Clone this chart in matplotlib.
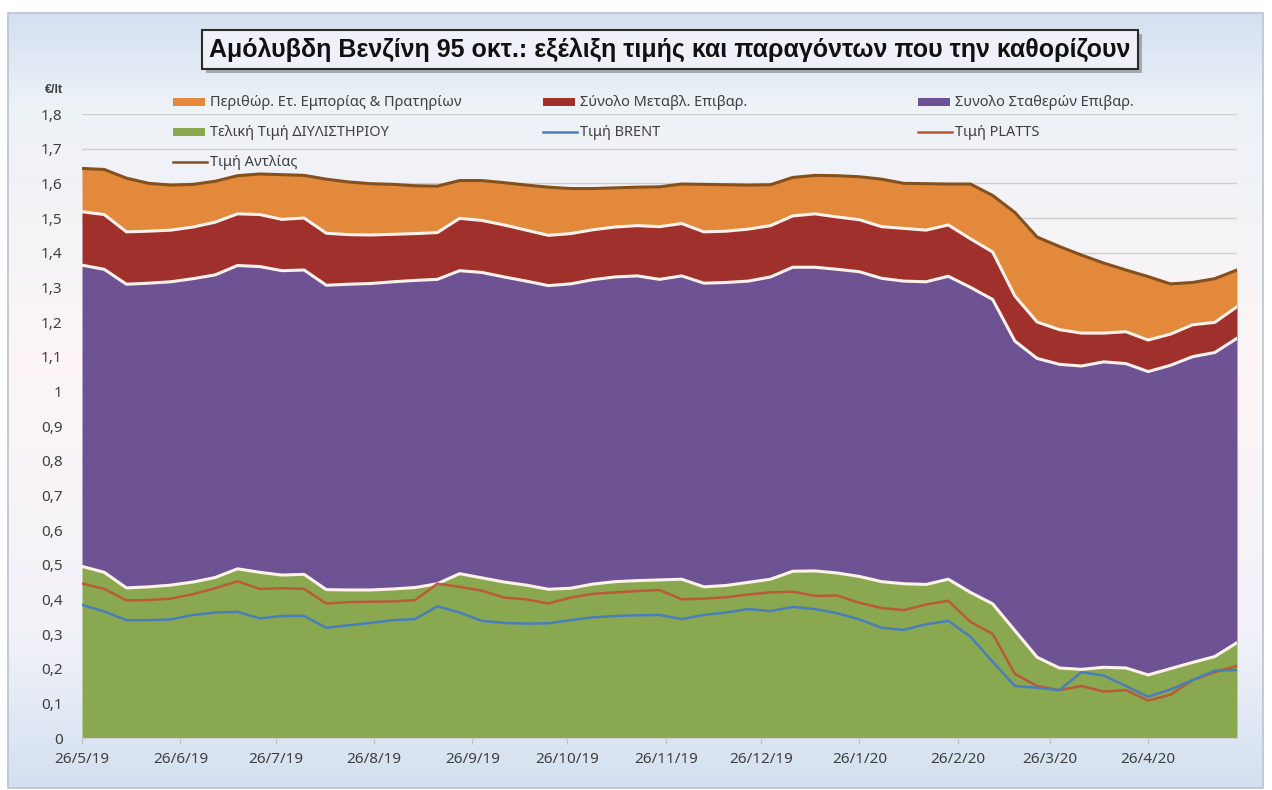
import matplotlib.pyplot as plt
import matplotlib.patheffects as pe
from matplotlib.lines import Line2D
from matplotlib.patches import Rectangle
from matplotlib.ticker import FuncFormatter, MultipleLocator
import numpy as np
import pandas as pd

# Excel-like palette
colors = {
    'green': '#8aa84f',
    'purple': '#6d5393',
    'red': '#9f302c',
    'orange': '#e2893c',
    'edge': '#fdf1ec',
    'pump': '#85501e',
    'brent': '#4a7ebb',
    'platts': '#b95a38',
    'ink': '#404040',
    'grid': '#cfcfcf',
}

plt.rcParams['font.family'] = ['Noto Sans', 'DejaVu Sans']
bold_family = ['Liberation Sans', 'DejaVu Sans']

# weekly samples, 26/5/19 .. 24/5/20 (€/lt)
dates = pd.date_range('2019-05-26', periods=53, freq='7D')

# top of the green area = final refinery price
refinery_price = [0.495, 0.478, 0.433, 0.436, 0.441, 0.450, 0.463, 0.488, 0.478, 0.470,
                  0.472, 0.428, 0.427, 0.427, 0.430, 0.434, 0.445, 0.474, 0.462, 0.450,
                  0.441, 0.429, 0.432, 0.444, 0.451, 0.454, 0.456, 0.458, 0.436, 0.440,
                  0.449, 0.458, 0.481, 0.482, 0.476, 0.466, 0.451, 0.445, 0.443, 0.458,
                  0.420, 0.387, 0.310, 0.233, 0.202, 0.198, 0.204, 0.202, 0.182, 0.200,
                  0.218, 0.235, 0.275]
# top of the purple area = refinery price + fixed taxes
fixed_taxes_level = [1.364, 1.352, 1.309, 1.312, 1.316, 1.325, 1.336, 1.363, 1.360, 1.348,
                     1.350, 1.306, 1.309, 1.311, 1.316, 1.320, 1.323, 1.348, 1.343, 1.330,
                     1.318, 1.305, 1.310, 1.322, 1.330, 1.333, 1.323, 1.333, 1.312, 1.314,
                     1.318, 1.330, 1.358, 1.358, 1.352, 1.345, 1.326, 1.318, 1.316, 1.332,
                     1.300, 1.265, 1.145, 1.095, 1.078, 1.073, 1.085, 1.080, 1.057, 1.075,
                     1.100, 1.112, 1.153]
# top of the red area = + variable taxes
var_taxes_level = [1.518, 1.510, 1.460, 1.462, 1.465, 1.474, 1.488, 1.512, 1.510, 1.496,
                   1.500, 1.456, 1.452, 1.451, 1.453, 1.455, 1.458, 1.499, 1.493, 1.480,
                   1.465, 1.450, 1.455, 1.466, 1.474, 1.478, 1.475, 1.484, 1.460, 1.462,
                   1.468, 1.478, 1.506, 1.512, 1.503, 1.495, 1.475, 1.470, 1.465, 1.480,
                   1.440, 1.402, 1.275, 1.200, 1.178, 1.168, 1.168, 1.172, 1.148, 1.165,
                   1.192, 1.199, 1.244]
# top of the orange area = pump price
pump_price = [1.643, 1.640, 1.615, 1.600, 1.595, 1.597, 1.606, 1.622, 1.627, 1.625,
              1.623, 1.612, 1.604, 1.599, 1.597, 1.593, 1.592, 1.608, 1.608, 1.602,
              1.595, 1.589, 1.585, 1.585, 1.587, 1.589, 1.590, 1.598, 1.597, 1.596,
              1.595, 1.596, 1.617, 1.623, 1.622, 1.619, 1.612, 1.600, 1.599, 1.598,
              1.598, 1.565, 1.516, 1.445, 1.418, 1.393, 1.370, 1.350, 1.331, 1.310,
              1.314, 1.325, 1.350]
platts = [0.446, 0.430, 0.397, 0.398, 0.402, 0.415, 0.432, 0.452, 0.430, 0.432,
          0.430, 0.388, 0.392, 0.393, 0.394, 0.398, 0.445, 0.436, 0.425, 0.405,
          0.400, 0.388, 0.405, 0.416, 0.420, 0.424, 0.427, 0.400, 0.402, 0.406,
          0.414, 0.420, 0.422, 0.410, 0.411, 0.390, 0.375, 0.369, 0.385, 0.396,
          0.335, 0.300, 0.185, 0.150, 0.138, 0.150, 0.134, 0.138, 0.108, 0.125,
          0.167, 0.190, 0.208]
brent = [0.384, 0.365, 0.340, 0.340, 0.342, 0.355, 0.362, 0.364, 0.345, 0.352,
         0.352, 0.318, 0.325, 0.332, 0.340, 0.343, 0.380, 0.362, 0.338, 0.332,
         0.330, 0.331, 0.340, 0.348, 0.352, 0.354, 0.355, 0.343, 0.355, 0.362,
         0.372, 0.366, 0.378, 0.372, 0.360, 0.342, 0.318, 0.312, 0.328, 0.338,
         0.292, 0.220, 0.150, 0.145, 0.138, 0.190, 0.180, 0.150, 0.119, 0.140,
         0.167, 0.194, 0.196]

month_ticks = pd.date_range('2019-05-26', periods=12, freq=pd.DateOffset(months=1))
month_labels = [f'{d.day}/{d.month}/{d.year % 100}' for d in month_ticks]

title = 'Αμόλυβδη Βενζίνη 95 οκτ.: εξέλιξη τιμής και παραγόντων που την καθορίζουν'
legend_rows = [
    [('Περιθώρ. Ετ. Εμπορίας & Πρατηρίων', 'orange', 'patch'),
     ('Σύνολο Μεταβλ. Επιβαρ.', 'red', 'patch'),
     ('Συνολο Σταθερών Επιβαρ.', 'purple', 'patch')],
    [('Τελική Τιμή ΔΙΥΛΙΣΤΗΡΙΟΥ', 'green', 'patch'),
     ('Τιμή BRENT', 'brent', 'line'),
     ('Τιμή PLATTS', 'platts', 'line')],
    [('Τιμή Αντλίας', 'pump', 'line')],
]

W, H = 1272, 790
fig = plt.figure(figsize=(W / 100, H / 100), dpi=100)

# background: white page with a soft gradient chart frame
bg = fig.add_axes([0, 0, 1, 1], zorder=-1)
bg.set_xlim(0, 1)
bg.set_ylim(0, 1)
bg.axis('off')
stops = np.array([0.0, 0.12, 0.45, 0.8, 1.0])
stop_cols = np.array([[0.83, 0.88, 0.94], [0.93, 0.95, 0.97], [0.99, 0.96, 0.965],
                      [0.95, 0.95, 0.975], [0.83, 0.88, 0.94]])
t = np.linspace(0, 1, 300)
grad = np.stack([np.interp(t, stops, stop_cols[:, i]) for i in range(3)], axis=-1)[:, None, :]
fx0, fx1, fy0, fy1 = 8 / W, 1263 / W, 2 / H, 777 / H
bg.imshow(grad, extent=[fx0, fx1, fy0, fy1], aspect='auto', origin='upper')
bg.add_patch(Rectangle((fx0, fy0), fx1 - fx0, fy1 - fy0, fill=False, ec='#b9c4d0', lw=1.2))

ax = fig.add_axes([82 / W, 52 / H, (1237 - 82) / W, (738 - 114) / H])
ax.patch.set_alpha(0)

ax.fill_between(dates, 0, refinery_price, color=colors['green'], lw=0)
ax.fill_between(dates, refinery_price, fixed_taxes_level, color=colors['purple'], lw=0)
ax.fill_between(dates, fixed_taxes_level, var_taxes_level, color=colors['red'], lw=0)
ax.fill_between(dates, var_taxes_level, pump_price, color=colors['orange'], lw=0)
for level in (refinery_price, fixed_taxes_level, var_taxes_level):
    ax.plot(dates, level, color=colors['edge'], lw=2.2)
ax.plot(dates, pump_price, color=colors['pump'], lw=2.2)
ax.plot(dates, platts, color=colors['platts'], lw=1.8)
ax.plot(dates, brent, color=colors['brent'], lw=1.8)

ax.set_xlim(dates[0], dates[-1])
ax.set_ylim(0, 1.8)
ax.yaxis.set_major_locator(MultipleLocator(0.1))
ax.yaxis.set_major_formatter(FuncFormatter(
    lambda v, _: f'{v:.1f}'.rstrip('0').rstrip('.').replace('.', ',')))
ax.set_xticks(month_ticks)
ax.set_xticklabels(month_labels)
ax.yaxis.grid(True, color=colors['grid'], lw=1)
ax.set_axisbelow(True)
for side in ('top', 'right', 'left'):
    ax.spines[side].set_visible(False)
ax.spines['bottom'].set_color('#d0d0d0')
ax.tick_params(axis='y', length=0, pad=14, labelsize=11, labelcolor=colors['ink'])
ax.tick_params(axis='x', length=4, color='#c0c0c0', pad=6, labelsize=11,
               labelcolor=colors['ink'])

fig.text(54 / W, 1 - 90 / H, '€/lt', ha='center', va='center', fontsize=9,
         fontweight='bold', family=bold_family, color=colors['ink'])

# boxed title with drop shadow
ttl = fig.text(670 / W, 1 - 49.5 / H, title, ha='center', va='center', fontsize=18,
               fontweight='bold', color='#111111', family=bold_family,
               bbox=dict(boxstyle='square,pad=0.28', fc='#eef2f8', ec='#2b2b2b', lw=1.5))
ttl.get_bbox_patch().set_path_effects([
    pe.SimplePatchShadow(offset=(3, -3), shadow_rgbFace='#7f7f7f', alpha=0.6), pe.Normal()])

# legend laid out like Excel: fixed columns, three rows
col_x = [173, 543, 918]
row_y = [102, 132, 162]
for r, row in enumerate(legend_rows):
    for c, (label, key, kind) in enumerate(row):
        x0, y0 = col_x[c] / W, 1 - row_y[r] / H
        if kind == 'patch':
            fig.add_artist(Rectangle((x0, y0 - 3.5 / H), 32 / W, 7 / H,
                                     transform=fig.transFigure, color=colors[key], lw=0))
        else:
            fig.add_artist(Line2D([x0, x0 + 34 / W], [y0, y0], transform=fig.transFigure,
                                  color=colors[key], lw=1.8))
        fig.text(x0 + 37 / W, y0, label, ha='left', va='center', fontsize=10.5,
                 color=colors['ink'])

fig.savefig('out.png', dpi=100)
